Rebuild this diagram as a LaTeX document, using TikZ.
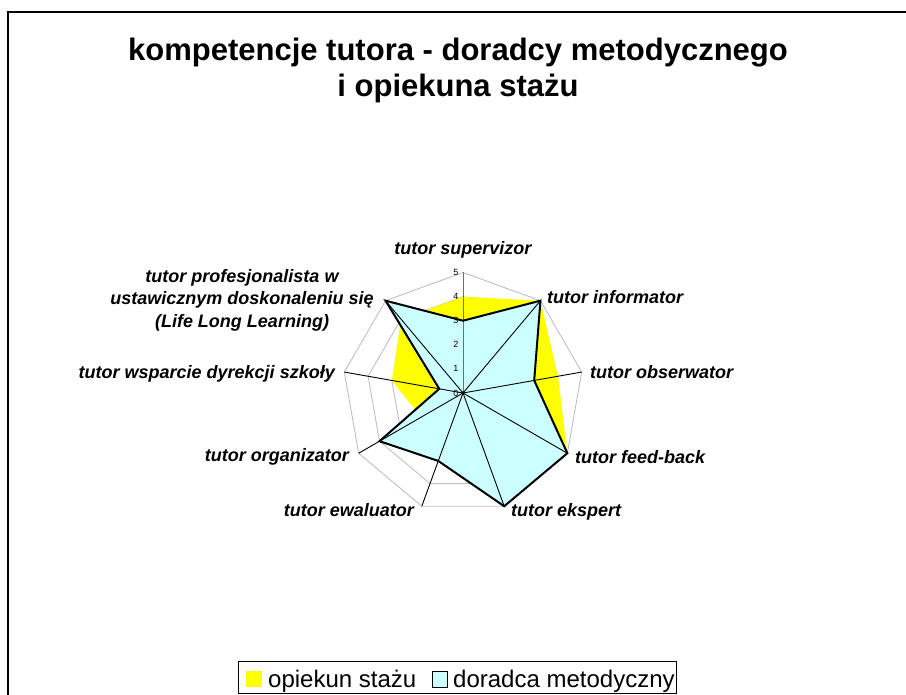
\documentclass[tikz,border=0pt]{standalone}
\usepackage{fontspec}
\setmainfont{Liberation Sans}
\usetikzlibrary{positioning,calc}
\definecolor{staz}{RGB}{255,255,0}
\definecolor{doradca}{RGB}{204,255,255}
\definecolor{siatka}{RGB}{192,192,192}
\definecolor{os}{RGB}{110,110,110}

\begin{document}
\begin{tikzpicture}[x=1pt, y=-1pt,
    lab/.style={font=\fontsize{18}{22}\selectfont\bfseries\itshape, inner sep=0pt},
    skala/.style={font=\fontsize{9}{10}\selectfont, inner sep=0pt, anchor=east},
    tyt/.style={font=\fontsize{31}{36}\selectfont\bfseries, inner sep=0pt, anchor=base},
    leg/.style={font=\fontsize{24}{28}\selectfont, inner sep=0pt, anchor=base west}]
  \useasboundingbox (0,0) rectangle (906,695);
  \draw[line width=1.5pt] (906,12) -- (8,12) -- (8,695);

  \node[tyt] (tyt1) at (458,61) {kompetencje tutora - doradcy metodycznego};
  \node[tyt] (tyt2) at (458,97) {i opiekuna stażu};

  \begin{scope}[shift={(463,393)}, yscale=-1]
    \def\U{24.1}
    \coordinate (O) at (0,0);
    % siatka
    \foreach \r in {1,...,5} {
      \draw[siatka, line width=0.9pt] (90:\r*\U)
        \foreach \k in {1,...,8} { -- ({90-40*\k}:\r*\U) } -- cycle;
    }
    \foreach \k in {0,...,8}
      \coordinate (A\k) at ({90-40*\k}:5*\U);
    % opiekun stazu
    \foreach \v [count=\k from 0] in {4,5,4,5,4,2,2,3,4}
      \coordinate (S\k) at ({90-40*\k}:\v*\U);
    % doradca metodyczny
    \foreach \v [count=\k from 0] in {3,5,3,5,5,3,4,1,5}
      \coordinate (D\k) at ({90-40*\k}:\v*\U);
    \fill[staz] (S0) -- (S1) -- (S2) -- (S3) -- (S4) -- (S5) -- (S6) -- (S7) -- (S8) -- cycle;
    \fill[doradca] (D0) -- (D1) -- (D2) -- (D3) -- (D4) -- (D5) -- (D6) -- (D7) -- (D8) -- cycle;
    \foreach \k in {1,...,8}
      \draw[line width=0.9pt] (O) -- (A\k);
    \draw[os, line width=1pt] (O) -- (A0);
    \draw[line width=2pt, line join=miter] (D0) -- (D1) -- (D2) -- (D3) -- (D4) -- (D5) -- (D6) -- (D7) -- (D8) -- cycle;
    \fill (O) circle (1.8pt);
    \foreach \r in {0,...,5}
      \node[skala] (s\r) at (-4.5,\r*\U) {\r};
  \end{scope}

  \node[lab, anchor=base] (supervizor) at (463,255) {tutor supervizor};
  \node[lab, anchor=base west] (informator) at (547,304) {tutor informator};
  \node[lab, anchor=base west] (obserwator) at (590,378) {tutor obserwator};
  \node[lab, anchor=base west] (feedback) at (575,463) {tutor feed-back};
  \node[lab, anchor=base west] (ekspert) at (511,516) {tutor ekspert};
  \node[lab, anchor=base east] (ewaluator) at (414,516) {tutor ewaluator};
  \node[lab, anchor=base east] (organizator) at (349,461) {tutor organizator};
  \node[lab, anchor=base east] (wsparcie) at (335,378) {tutor wsparcie dyrekcji szkoły};
  \node[lab, anchor=base] (prof1) at (242,283) {tutor profesjonalista w};
  \node[lab, anchor=base] (prof2) at (242,305) {ustawicznym doskonaleniu się};
  \node[lab, anchor=base] (prof3) at (242,328) {(Life Long Learning)};

  % legenda
  \draw[line width=0.9pt] (238,661) rectangle (676,693);
  \fill[staz] (246,671) rectangle (262,687);
  \node[leg] (legstaz) at (268,687) {opiekun stażu};
  \draw[fill=doradca, line width=1pt] (432,671) rectangle (447,687);
  \node[leg] (legdor) at (453,687) {doradca metodyczny};
\end{tikzpicture}
\end{document}
